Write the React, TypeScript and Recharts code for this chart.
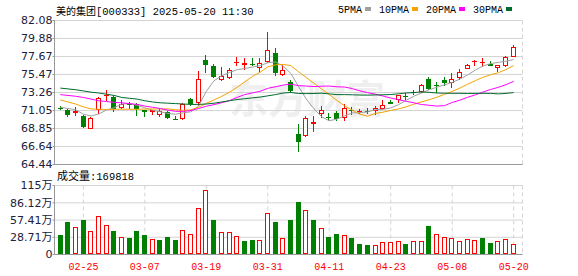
import React from "react";
import { ComposedChart, Bar, Line, XAxis, YAxis, CartesianGrid } from "recharts";

const dates = [
  "02-20", "02-21", "02-24", "02-25", "02-26", "02-27", "02-28", "03-03", "03-04", "03-05",
  "03-06", "03-07", "03-10", "03-11", "03-12", "03-13", "03-14", "03-17", "03-18", "03-19",
  "03-20", "03-21", "03-24", "03-25", "03-26", "03-27", "03-28", "03-31", "04-01", "04-02",
  "04-03", "04-07", "04-08", "04-09", "04-10", "04-11", "04-14", "04-15", "04-16", "04-17",
  "04-18", "04-21", "04-22", "04-23", "04-24", "04-25", "04-28", "04-29", "04-30", "05-06",
  "05-07", "05-08", "05-09", "05-12", "05-13", "05-14", "05-15", "05-16", "05-19", "05-20",
];

const openPrices = [
  71.40, 71.09, 70.77, 70.44, 68.81, 71.09, 72.85, 72.68, 71.34, 71.90,
  71.91, 71.09, 70.85, 70.56, 70.90, 70.06, 70.04, 72.49, 72.00, 77.30,
  76.48, 74.77, 74.98, 76.95, 76.57, 76.75, 76.29, 77.02, 78.12, 75.38,
  74.57, 68.20, 67.91, 69.34, 70.65, 70.30, 70.69, 70.16, 71.10, 70.94,
  71.00, 70.97, 71.26, 72.07, 72.40, 72.85, 73.35, 73.30, 74.97, 74.24,
  74.73, 74.45, 75.06, 76.16, 77.10, 76.98, 76.80, 76.30, 76.48, 77.63,
];
const highPrices = [
  71.60, 71.20, 71.51, 70.50, 70.28, 72.68, 73.54, 73.00, 72.40, 72.12,
  72.00, 71.12, 71.12, 71.18, 71.00, 70.40, 72.00, 72.60, 75.87, 77.90,
  76.70, 76.40, 76.30, 77.60, 77.50, 77.50, 77.50, 80.65, 78.74, 76.70,
  74.85, 69.40, 70.44, 70.36, 71.58, 70.80, 70.97, 71.79, 71.46, 71.30,
  71.40, 71.58, 72.28, 72.30, 73.00, 73.15, 73.60, 74.35, 75.10, 74.52,
  75.18, 75.67, 76.08, 76.78, 77.18, 77.51, 77.10, 76.69, 77.79, 79.02,
];
const lowPrices = [
  71.10, 70.23, 70.36, 68.95, 68.78, 70.65, 72.16, 70.90, 71.30, 71.18,
  70.44, 70.20, 70.50, 70.28, 70.00, 69.90, 69.95, 71.60, 71.60, 75.60,
  75.00, 74.65, 74.90, 76.50, 76.00, 76.50, 75.70, 76.90, 75.26, 75.26,
  73.14, 65.95, 67.80, 68.40, 70.16, 69.75, 69.75, 69.75, 70.56, 70.60,
  70.60, 70.56, 71.17, 71.80, 72.00, 72.40, 72.90, 73.20, 73.60, 73.14,
  74.03, 73.84, 74.85, 76.08, 76.48, 76.41, 76.48, 75.75, 76.41, 77.55,
];
const closePrices = [
  71.30, 70.56, 70.97, 69.01, 70.08, 72.53, 72.95, 71.18, 71.79, 71.75,
  71.18, 70.85, 71.09, 70.97, 70.11, 70.00, 71.79, 71.91, 74.94, 76.60,
  75.18, 75.34, 75.99, 77.00, 76.85, 76.70, 76.90, 78.44, 75.60, 75.99,
  73.42, 67.17, 70.16, 69.63, 71.06, 70.26, 70.04, 71.38, 71.05, 70.97,
  70.95, 71.38, 71.67, 71.88, 72.90, 72.78, 73.30, 74.24, 73.71, 74.03,
  74.45, 74.94, 75.80, 76.57, 77.14, 77.02, 76.50, 76.60, 77.63, 78.86,
];
// close of the session before the first bar
const prevClose = 71.52;

// volume in 万 (10k lots)
const volumes = [
  31.7, 55, 46, 57, 39.5, 64.5, 49.5, 40, 29.5, 28.3,
  40, 31.7, 26, 25, 30, 25, 41, 34.5, 78, 107,
  58, 38, 38, 31, 23.3, 25, 24.5, 69.5, 55, 26.7,
  57, 88, 75, 58, 44.5, 30, 35, 33, 26.7, 18.3,
  15, 16, 21, 21, 23, 16.7, 23, 23, 48, 34.5,
  29.5, 26.7, 23, 26, 24.5, 28.3, 20, 23, 26, 16.9818,
];

const ma5 = [
  71.45, 71.3, 71.15, 70.6, 70.38, 70.63, 71.11, 71.4, 71.85, 71.9,
  71.7, 71.38, 71.1, 70.9, 70.7, 70.6, 70.77, 70.9, 71.6, 73.4,
  74.7, 75.3, 75.7, 76.05, 76.2, 76.38, 76.55, 76.9, 77.0, 76.5,
  75.6, 74.0, 72.47, 71.27, 70.29, 69.8, 70.0, 70.4, 70.76, 70.8,
  70.88, 71.15, 71.2, 71.37, 71.76, 72.3, 72.8, 73.2, 73.6, 73.9,
  74.2, 74.5, 74.9, 75.4, 76.0, 76.5, 76.8, 76.95, 77.1, 77.3,
];
const ma10 = [
  72.35, 72.1, 71.85, 71.5, 71.25, 71.2, 71.18, 71.2, 71.22, 71.21,
  71.2, 71.23, 71.24, 71.25, 71.25, 71.15, 71.07, 71.14, 71.46, 71.94,
  72.34, 72.79, 73.28, 73.89, 74.56, 75.23, 75.74, 76.4, 76.65, 76.7,
  76.55, 75.8, 75.1, 74.4, 73.7, 73.0, 72.3, 71.6, 71.1, 70.6,
  70.35, 70.7, 70.85, 71.06, 71.25, 71.5, 71.83, 72.11, 72.38, 72.68,
  73.03, 73.39, 73.8, 74.27, 74.7, 75.12, 75.44, 75.68, 76.07, 76.55,
];
const ma20 = [
  73.0, 72.9, 72.8, 72.65, 72.45, 72.25, 72.15, 72.05, 72.0, 71.9,
  71.8, 71.6, 71.45, 71.3, 71.1, 70.95, 70.95, 71.05, 71.3, 71.58,
  71.77, 72.01, 72.26, 72.66, 73.0, 73.21, 73.41, 73.77, 73.96, 74.17,
  74.28, 74.1, 74.05, 73.99, 74.03, 74.05, 73.96, 73.93, 73.74, 73.46,
  73.25, 73.05, 72.83, 72.58, 72.38, 72.18, 72.0, 71.79, 71.7, 71.6,
  71.65, 72.04, 72.32, 72.67, 72.97, 73.31, 73.63, 73.89, 74.22, 74.62,
];
const ma30 = [
  73.8, 73.7, 73.6, 73.45, 73.3, 73.2, 73.05, 72.9, 72.65, 72.55,
  72.45, 72.25, 72.1, 72.0, 71.95, 71.9, 71.85, 71.8, 71.8, 71.85,
  71.95, 72.1, 72.25, 72.4, 72.5, 72.6, 72.7, 72.85, 73.0, 73.19,
  73.26, 73.14, 73.12, 73.14, 73.17, 73.09, 73.0, 73.0, 72.98, 72.95,
  72.94, 72.96, 72.98, 73.01, 73.1, 73.2, 73.25, 73.33, 73.28, 73.2,
  73.17, 73.16, 73.16, 73.14, 73.15, 73.16, 73.15, 73.09, 73.15, 73.25,
];

const priceTicks = [64.44, 66.64, 68.85, 71.05, 73.26, 75.47, 77.67, 79.88, 82.08];
const volumeTicks = [0, 28.71, 57.41, 86.12, 115];
const dateTicks = ["02-25", "03-07", "03-19", "03-31", "04-11", "04-23", "05-08", "05-20"];

const stockName = "美的集团";
const stockCode = "[000333]";
const stamp = "2025-05-20 11:30";

const RED = "#ff0000";
const GREEN = "#008000";
const FRAME = "#999999";
const GRID = "#d4d4d4";
const LABEL = "#20203c";
const maLines = [
  { key: "ma5", name: "5PMA", color: "#a0a0a0" },
  { key: "ma10", name: "10PMA", color: "#f5a300" },
  { key: "ma20", name: "20PMA", color: "#ff00ff" },
  { key: "ma30", name: "30PMA", color: "#006b2d" },
];

const rows = dates.map((date, i) => ({
  date,
  open: openPrices[i],
  high: highPrices[i],
  low: lowPrices[i],
  close: closePrices[i],
  volume: volumes[i],
  volUp: closePrices[i] >= (i === 0 ? prevClose : closePrices[i - 1]),
  ma5: ma5[i],
  ma10: ma10[i],
  ma20: ma20[i],
  ma30: ma30[i],
}));

const MONO = "'Liberation Mono', 'DejaVu Sans Mono', monospace";
const CJK = "'Noto Sans CJK SC', sans-serif";
const AXIS_FONT = "'DejaVu Sans', 'Noto Sans CJK SC', sans-serif";

const Candle = (props: any) => {
  const { x, y, width, height, payload } = props;
  if (!payload || !isFinite(y)) return null;
  const { open, close, high, low } = payload;
  const k = high > low ? height / (high - low) : 0;
  const py = (v: number) => Math.round(y + (high - v) * k);
  const cx = Math.floor(x + width / 2) + 0.5;
  const color = close > open ? RED : GREEN;
  const yHigh = py(high);
  const yLow = py(low);
  const yTop = py(Math.max(open, close));
  const yBot = py(Math.min(open, close));
  const h = yBot - yTop;
  if (h < 2) {
    return (
      <g>
        <line x1={cx} x2={cx} y1={yHigh} y2={yLow} stroke={color} />
        <line x1={cx - 2.5} x2={cx + 2.5} y1={yTop + 0.5} y2={yTop + 0.5} stroke={color} />
      </g>
    );
  }
  if (close > open) {
    return (
      <g>
        <line x1={cx} x2={cx} y1={yHigh} y2={yTop} stroke={color} />
        <line x1={cx} x2={cx} y1={yBot} y2={yLow} stroke={color} />
        <rect x={cx - 2} y={yTop + 0.5} width={4} height={h - 1} fill="#fff" stroke={color} />
      </g>
    );
  }
  return (
    <g>
      <line x1={cx} x2={cx} y1={yHigh} y2={yLow} stroke={color} />
      <rect x={cx - 2.5} y={yTop} width={5} height={h} fill={color} />
    </g>
  );
};

const VolumeBar = (props: any) => {
  const { x, y, width, height, payload } = props;
  if (!payload || !isFinite(y)) return null;
  const cx = Math.floor(x + width / 2) + 0.5;
  const top = Math.round(y);
  const bot = Math.floor(y + height);
  if (payload.volUp) {
    return <rect x={cx - 2} y={top + 0.5} width={4} height={Math.max(0, bot - top - 1)} fill="#fff" stroke={RED} />;
  }
  return <rect x={cx - 2.5} y={top} width={5} height={bot - top} fill={GREEN} />;
};

function Header() {
  let lx = 338;
  const items = maLines.map((m) => {
    const tx = lx;
    const mx = tx + m.name.length * 6 + 3;
    lx = mx + 6 + 8;
    return (
      <g key={m.key}>
        <text x={tx} y={12.5} fontFamily={MONO} fontSize={10} fill="#000">{m.name}</text>
        <rect x={mx} y={7} width={6} height={4} fill={m.color} />
      </g>
    );
  });
  return (
    <svg width={578} height={276} style={{ position: "absolute", left: 0, top: 0, pointerEvents: "none" }}>
      <text x={56} y={15} fill="#000">
        <tspan fontFamily={CJK} fontSize={10}>{stockName}</tspan>
        <tspan fontFamily={MONO} fontSize={10.5}>{stockCode} {stamp}</tspan>
      </text>
      {items}
      <text x={57} y={180} fill="#000">
        <tspan fontFamily={CJK} fontSize={11}>成交量</tspan>
        <tspan fontFamily={MONO} fontSize={10.5}>:{Math.round(volumes[volumes.length - 1] * 10000)}</tspan>
      </text>
    </svg>
  );
}

export default function App() {
  return (
    <div style={{ position: "absolute", left: 0, top: 0, width: 578, height: 276, background: "#fff", overflow: "hidden" }}>
      <svg width={578} height={276} style={{ position: "absolute", left: 0, top: 0 }}>
        <text x={229} y={113} fontFamily={CJK} fontSize={39} fontWeight={700} fill="#efefef">东方财富</text>
      </svg>

      <div style={{ position: "absolute", left: 0, top: 0 }}>
        <ComposedChart width={578} height={175} data={rows} margin={{ top: 20.5, right: 55.5, left: 0, bottom: 0 }}>
          <CartesianGrid vertical={false} stroke={GRID} />
          <CartesianGrid horizontal={false} stroke={GRID} strokeDasharray="4 3" />
          <XAxis dataKey="date" ticks={dateTicks} interval={0} tick={false} tickLine={false} height={10.5}
            axisLine={{ stroke: FRAME }} padding={{ left: 2, right: 5 }} />
          <XAxis xAxisId="top" orientation="top" dataKey="date" height={0} tick={false} tickLine={false}
            axisLine={{ stroke: FRAME }} />
          <YAxis domain={[priceTicks[0], priceTicks[priceTicks.length - 1]]} ticks={priceTicks} interval={0}
            allowDataOverflow width={54.5} tickSize={2} tickMargin={0}
            tickFormatter={(v: number) => v.toFixed(2)}
            tick={{ fill: LABEL, fontSize: 11, fontFamily: AXIS_FONT }}
            axisLine={{ stroke: FRAME }} tickLine={{ stroke: FRAME }} />
          <YAxis yAxisId="right" orientation="right" width={0} domain={[priceTicks[0], priceTicks[priceTicks.length - 1]]}
            tick={false} tickLine={false} axisLine={{ stroke: FRAME }} />
          <Bar dataKey={(d: any) => [d.low, d.high]} shape={Candle} barSize={5} isAnimationActive={false} />
          {maLines.map((m) => (
            <Line key={m.key} dataKey={m.key} type="linear" stroke={m.color} strokeWidth={1}
              dot={false} activeDot={false} isAnimationActive={false} />
          ))}
        </ComposedChart>
      </div>

      <div style={{ position: "absolute", left: 0, top: 175 }}>
        <ComposedChart width={578} height={101} data={rows} margin={{ top: 10.5, right: 55.5, left: 0, bottom: 0 }}>
          <CartesianGrid vertical={false} stroke={GRID} />
          <CartesianGrid horizontal={false} stroke={GRID} strokeDasharray="4 3" />
          <XAxis dataKey="date" ticks={dateTicks} interval={0} tickLine={false} height={21.5}
            axisLine={{ stroke: FRAME }} padding={{ left: 2, right: 5 }}
            tick={{ fill: RED, fontSize: 10, fontFamily: MONO }} />
          <XAxis xAxisId="top" orientation="top" dataKey="date" height={0} tick={false} tickLine={false}
            axisLine={{ stroke: FRAME }} />
          <YAxis domain={[volumeTicks[0], volumeTicks[volumeTicks.length - 1]]} ticks={volumeTicks} interval={0}
            allowDataOverflow width={54.5} tickSize={2} tickMargin={0}
            tickFormatter={(v: number) => (v === 0 ? "0" : `${v}万`)}
            tick={{ fill: LABEL, fontSize: 11, fontFamily: AXIS_FONT }}
            axisLine={{ stroke: FRAME }} tickLine={{ stroke: FRAME }} />
          <YAxis yAxisId="right" orientation="right" width={0} domain={[volumeTicks[0], volumeTicks[volumeTicks.length - 1]]}
            tick={false} tickLine={false} axisLine={{ stroke: FRAME }} />
          <Bar dataKey="volume" shape={VolumeBar} barSize={5} isAnimationActive={false} />
        </ComposedChart>
      </div>

      <Header />
    </div>
  );
}
